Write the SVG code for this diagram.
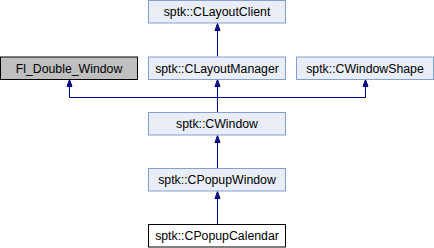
<svg xmlns="http://www.w3.org/2000/svg" width="434" height="248" viewBox="0 0 434 248">
<defs>
<style>
.n rect{fill:#E8EDF6;stroke:#84A0D0;stroke-width:1}
.g rect{fill:#BFBFBF;stroke:#000;stroke-width:1}
.w rect{fill:#fff;stroke:#000;stroke-width:1}
text{font-family:"Liberation Sans",Arial,sans-serif;font-size:12.3px;fill:#000;text-anchor:middle}
.e{stroke:#000080;stroke-width:1;fill:none}
</style>
<marker id="a" markerWidth="8" markerHeight="8" refX="7" refY="4" orient="auto" markerUnits="userSpaceOnUse" viewBox="0 0 8 8">
<path d="M0,1.5 L7,4 L0,6.5 Z" fill="#000080" stroke="#000080"/>
</marker>
</defs>
<rect width="434" height="248" fill="#fff"/>
<g id="connectors">
<path class="e" d="M217.5,56.5 V23.5" marker-end="url(#a)"/>
<path class="e" d="M217.5,112.5 V97.5 H69.5 V79.5" marker-end="url(#a)"/>
<path class="e" d="M217.5,97.5 V79.5" marker-end="url(#a)"/>
<path class="e" d="M217.5,97.5 H365.5 V79.5" marker-end="url(#a)"/>
<path class="e" d="M217.5,168.5 V135.5" marker-end="url(#a)"/>
<path class="e" d="M217.5,224.5 V191.5" marker-end="url(#a)"/>
</g>
<g id="CLayoutClient" class="n"><rect x="148.5" y="0.5" width="137" height="22.5"/><text x="217" y="16">sptk::CLayoutClient</text></g>
<g id="FlDoubleWindow" class="g"><rect x="0.5" y="57" width="137" height="22.5"/><text x="69" y="72.5">Fl_Double_Window</text></g>
<g id="CLayoutManager" class="n"><rect x="148.5" y="57" width="137" height="22.5"/><text x="217" y="72.5">sptk::CLayoutManager</text></g>
<g id="CWindowShape" class="n"><rect x="296.5" y="57" width="137" height="22.5"/><text x="365" y="72.5">sptk::CWindowShape</text></g>
<g id="CWindow" class="n"><rect x="148.5" y="112.5" width="137" height="22.5"/><text x="217" y="128">sptk::CWindow</text></g>
<g id="CPopupWindow" class="n"><rect x="148.5" y="168.5" width="137" height="22.5"/><text x="217" y="184">sptk::CPopupWindow</text></g>
<g id="CPopupCalendar" class="w"><rect x="148.5" y="224.5" width="137" height="22.5"/><text x="217" y="240">sptk::CPopupCalendar</text></g>
</svg>
